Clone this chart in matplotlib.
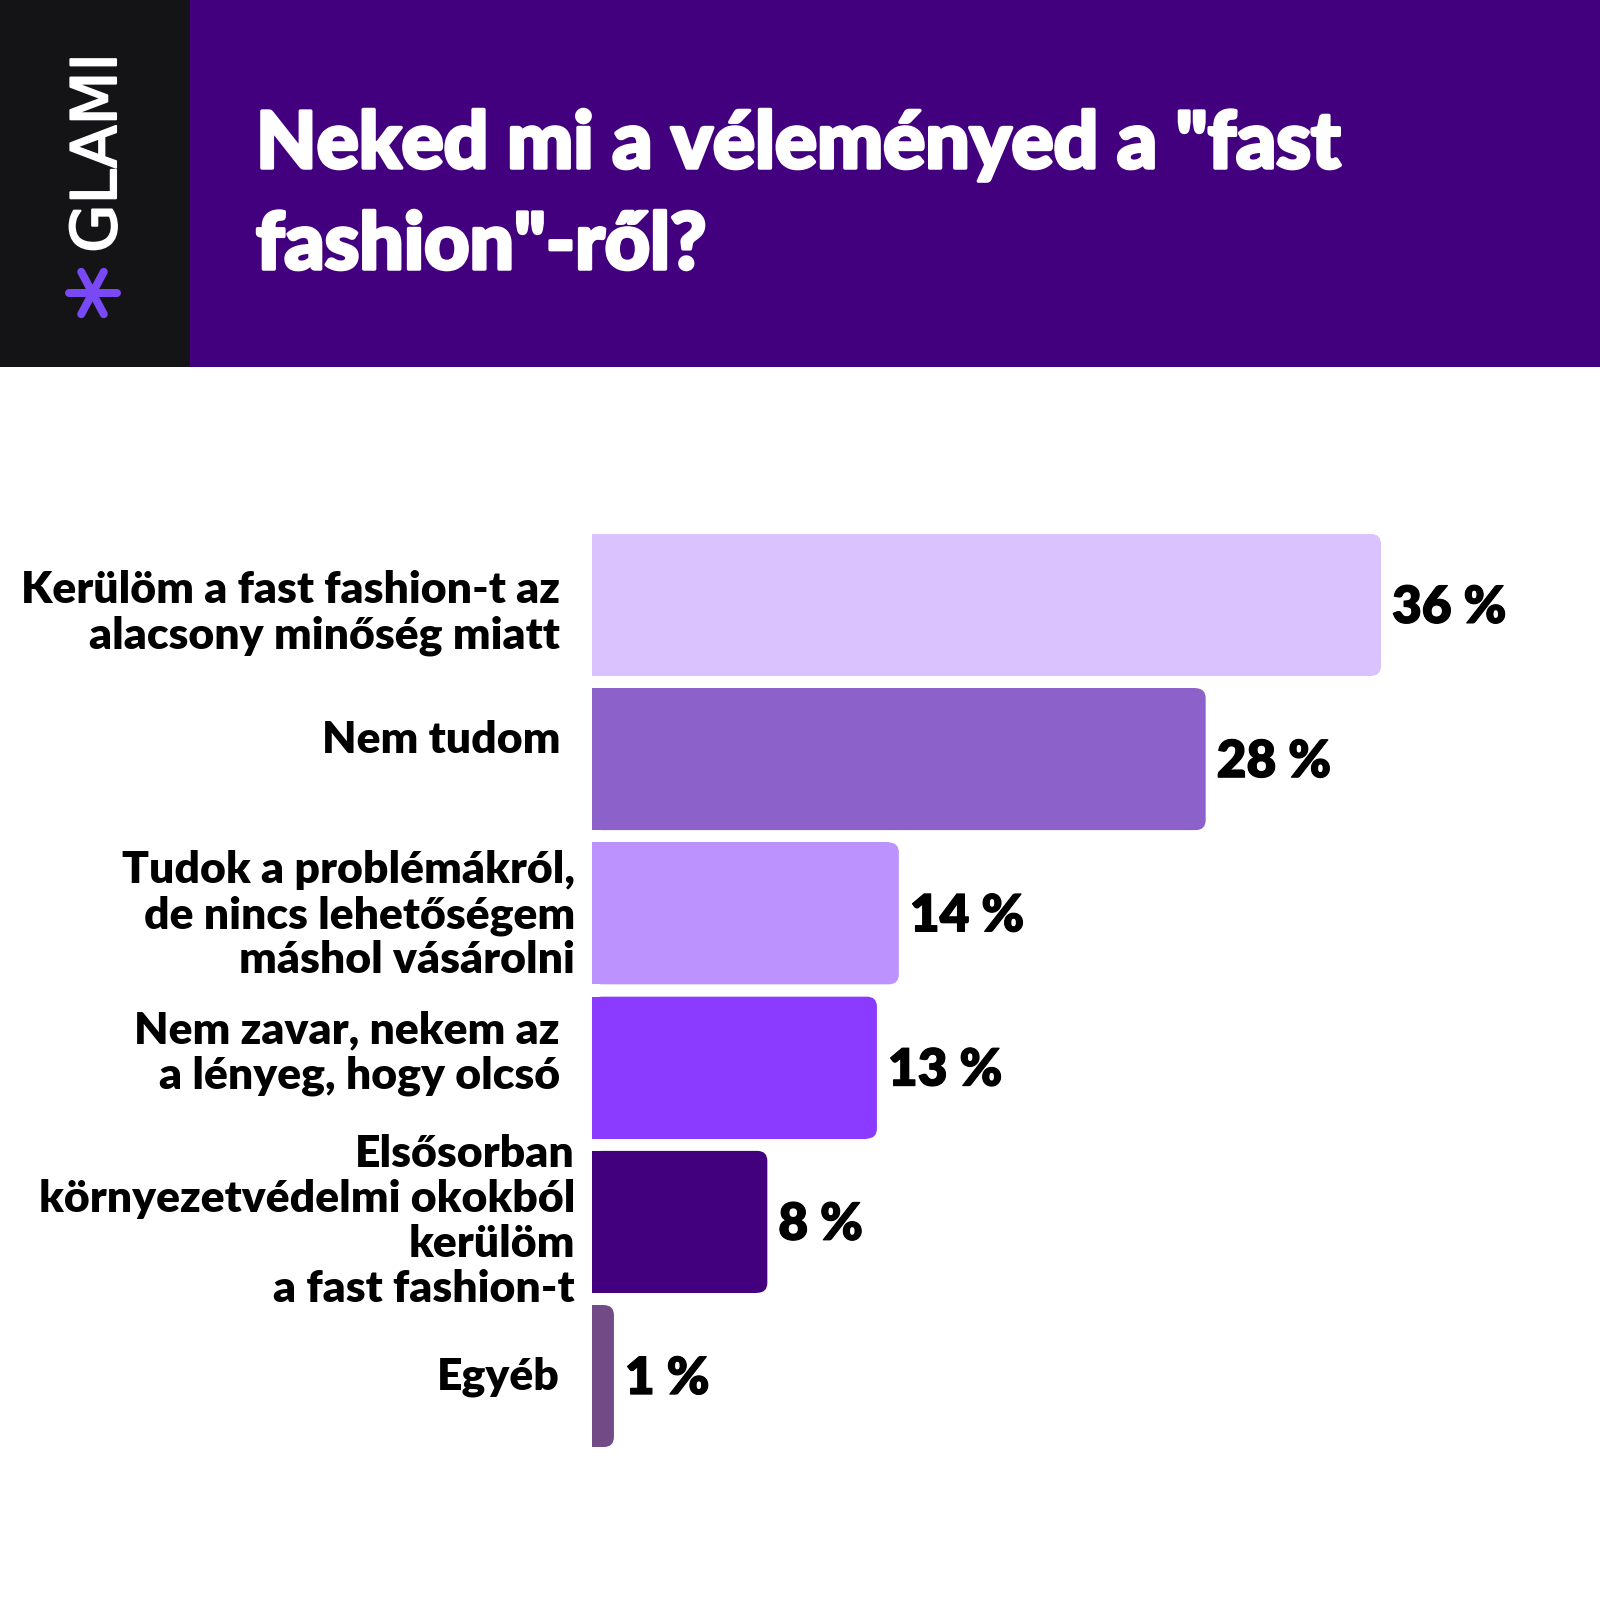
import math
import matplotlib
matplotlib.use("Agg")
import matplotlib.pyplot as plt
import matplotlib.patheffects as pe
from matplotlib.patches import Rectangle, FancyBboxPatch
from matplotlib.lines import Line2D

# ---------------- data ----------------
categories = [
    "Kerülöm a fast fashion-t az\nalacsony minőség miatt",
    "Nem tudom",
    "Tudok a problémákról,\nde nincs lehetőségem\nmáshol vásárolni",
    "Nem zavar, nekem az\na lényeg, hogy olcsó",
    "Elsősorban\nkörnyezetvédelmi okokból\nkerülöm\na fast fashion-t",
    "Egyéb",
]
values = [36, 28, 14, 13, 8, 1]
value_labels = [f"{v} %" for v in values]
title_lines = ['Neked mi a véleményed a "fast', 'fashion"-ről?']
brand = "GLAMI"

# ---------------- style ----------------
bar_colors = ["#D9C2FE", "#8C61C9", "#BC93FE", "#8A3BFF", "#42007F", "#714A86"]
HEADER = "#42007F"
PANEL = "#141416"
ASTER = "#7A49F6"

W = H = 1600
DPI = 100
PT = 72 / DPI  # points per pixel

def fx(x):
    return x / W

def fy(y):
    return 1 - y / H

fig = plt.figure(figsize=(W / DPI, H / DPI), dpi=DPI, facecolor="white")

# header background
fig.patches.append(Rectangle((0, fy(367)), 1, 367 / H, transform=fig.transFigure,
                             facecolor=HEADER, edgecolor="none", zorder=0))
fig.patches.append(Rectangle((0, fy(367)), 190 / W, 367 / H, transform=fig.transFigure,
                             facecolor=PANEL, edgecolor="none", zorder=1))

# brand text (vertical)
fig.text(fx(99), fy(153), brand, rotation=90, ha="center", va="center",
         fontsize=45, color="white", family="DejaVu Sans", zorder=3,
         path_effects=[pe.withStroke(linewidth=1.5, foreground="white")])

# asterisk logo
cx, cy, arm = 92.5, 293, 24
for ang in (0, 62, -62):
    dx = arm * math.cos(math.radians(ang))
    dy = arm * math.sin(math.radians(ang))
    fig.lines.append(Line2D([fx(cx - dx), fx(cx + dx)], [fy(cy - dy), fy(cy + dy)],
                            transform=fig.transFigure, color=ASTER, lw=8 * PT,
                            solid_capstyle="round", zorder=3))

# title
title_baselines = [168, 269]
for line, yb in zip(title_lines, title_baselines):
    fig.text(fx(256), fy(yb), line, ha="left", va="baseline", fontsize=56.5,
             fontweight="black", family="Lato", color="white", zorder=3,
             path_effects=[pe.withStroke(linewidth=2.5, foreground="white")])

# ---------------- bar axes ----------------
px_per_unit_x = (1381 - 592) / 36
ax_left, ax_top, ax_bottom = 592, 534, 1447
ax = fig.add_axes([fx(ax_left), fy(ax_bottom), (W - ax_left) / W, (ax_bottom - ax_top) / H])
ax.axis("off")
ax.set_xlim(0, (W - ax_left) / px_per_unit_x)
ax.set_ylim(5.46, -0.46)
px_per_unit_y = (ax_bottom - ax_top) / (5.46 + 0.46)

bar_h = 0.92
ypos = list(range(len(values)))
bars = ax.barh(ypos, values, height=bar_h, color=bar_colors, linewidth=0)

radius_px = 10
rx = radius_px / px_per_unit_x
aspect = px_per_unit_x / px_per_unit_y
for rect, v, c, i in zip(bars, values, bar_colors, ypos):
    rect.set_width(v - rx)
    ax.add_patch(FancyBboxPatch((0, i - bar_h / 2), v, bar_h,
                                boxstyle=f"round,pad=0,rounding_size={rx}",
                                mutation_aspect=aspect, facecolor=c,
                                edgecolor="none", linewidth=0))

# value labels
for v, lbl, i in zip(values, value_labels, ypos):
    ax.annotate(lbl, xy=(v, i), xytext=(11 * PT, -18 * PT), textcoords="offset points",
                ha="left", va="baseline", fontsize=37, fontweight="heavy",
                family="Lato", color="black",
                path_effects=[pe.withStroke(linewidth=0.8, foreground="black")])

# category labels (right aligned, each line placed on its baseline)
label_right_px = [560, 560, 575, 560, 575, 560]
label_shift_px = [6, -21, 0, -17, -2, -2]
cap_px, pitch_px = 30, 45
for cat, i, rpx, sh in zip(categories, ypos, label_right_px, label_shift_px):
    lines = cat.split("\n")
    n = len(lines)
    first = -(cap_px + (n - 1) * pitch_px) / 2 + cap_px + sh
    for k, line in enumerate(lines):
        off = first + k * pitch_px
        ax.annotate(line, xy=(0, i), xytext=((rpx - ax_left) * PT, -off * PT),
                    textcoords="offset points", ha="right", va="baseline",
                    fontsize=32, fontweight="heavy", family="Lato", color="black",
                    annotation_clip=False)

fig.savefig("out.png", dpi=DPI, facecolor="white")
